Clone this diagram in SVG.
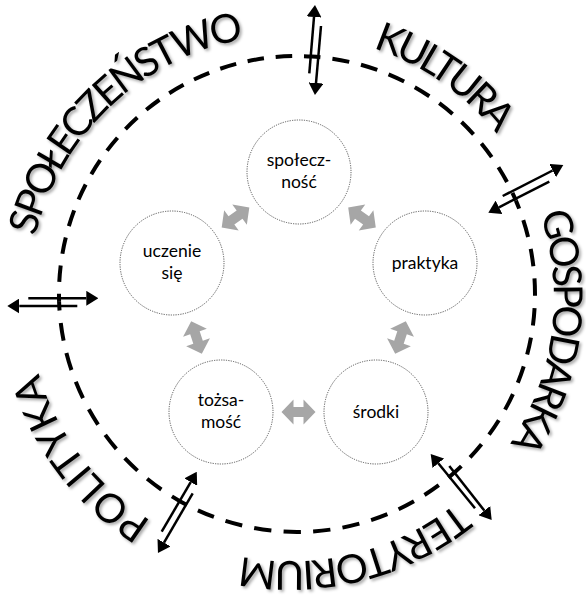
<svg xmlns="http://www.w3.org/2000/svg" width="586" height="600" viewBox="0 0 586 600">
<style>
.ring{fill:none;stroke:#000;stroke-width:4}
.word{font-family:Lato,"Liberation Sans",sans-serif;font-size:40px;fill:#000}
.node circle{fill:#fff;stroke:#555;stroke-width:1;stroke-dasharray:1.2 1.2}
.node text{font-family:Lato,"Liberation Sans",sans-serif;font-size:17.5px;fill:#000;text-anchor:middle}
.garrow{fill:#a6a6a6}
.xline{stroke:#000;stroke-width:2.5;fill:none;marker-end:url(#head)}
</style>
<defs>
<marker id="head" markerUnits="userSpaceOnUse" viewBox="0 -7.5 12 15" refX="0" refY="0" markerWidth="12" markerHeight="15" orient="auto">
<path d="M0,-7.5 L12,0 L0,7.5 Z" fill="#000"/>
</marker>
<filter id="shadow" x="-10%" y="-10%" width="130%" height="130%">
<feDropShadow dx="2" dy="2" stdDeviation="1.5" flood-color="#000" flood-opacity="0.35"/>
</filter>
<path id="gArrow" d="M-17,0 L-5,-12.5 L-5,-5 L5,-5 L5,-12.5 L17,0 L5,12.5 L5,5 L-5,5 L-5,12.5 Z"/>
<path id="pSpol" d="M71.2,442.4 A263,263 0 0 1 448.2,87.1"/>
<path id="pKult" d="M104.4,112.7 A263,263 0 0 1 529.8,408.3"/>
<path id="pGosp" d="M370.1,47.2 A263,263 0 0 1 302.5,560.7"/>
<path id="pTery" d="M553.4,279.7 A263,263 0 0 1 50.7,405.0"/>
<path id="pPoli" d="M411.6,531.7 A263,263 0 0 1 97.7,119.6"/>
</defs>
<rect width="586" height="600" fill="#fff"/>

<g id="ring">
<path class="ring" d="M311.9,56.5 A238,238 0 0 1 515.9,200.6" stroke-dasharray="17.12 12.09" stroke-dashoffset="8.56"/>
<path class="ring" d="M515.9,200.6 A238,238 0 0 1 455.0,472.0" stroke-dasharray="17.41 12.29" stroke-dashoffset="8.7"/>
<path class="ring" d="M455.0,472.0 A238,238 0 0 1 179.5,500.9" stroke-dasharray="17.34 12.24" stroke-dashoffset="8.67"/>
<path class="ring" d="M179.5,500.9 A238,238 0 0 1 59.1,301.9" stroke-dasharray="17.8 12.58" stroke-dashoffset="8.9"/>
<path class="ring" d="M59.1,301.9 A238,238 0 0 1 311.9,56.5" stroke-dasharray="16.6 11.74" stroke-dashoffset="8.3"/>
</g>

<g id="ring-labels" filter="url(#shadow)">
<text class="word"><textPath href="#pSpol" startOffset="50%" text-anchor="middle" textLength="304" lengthAdjust="spacing">SPOŁECZEŃSTWO</textPath></text>
<text class="word"><textPath href="#pKult" startOffset="50%" text-anchor="middle" textLength="153" lengthAdjust="spacing">KULTURA</textPath></text>
<text class="word"><textPath href="#pGosp" startOffset="50%" text-anchor="middle" textLength="240" lengthAdjust="spacing">GOSPODARKA</textPath></text>
<text class="word"><textPath href="#pTery" startOffset="50%" text-anchor="middle" textLength="230" lengthAdjust="spacing">TERYTORIUM</textPath></text>
<text class="word"><textPath href="#pPoli" startOffset="50%" text-anchor="middle" textLength="190" lengthAdjust="spacing">POLITYKA</textPath></text>
</g>

<g id="node-spolecznosc" class="node">
<circle cx="299" cy="172" r="52"/>
<text x="299" y="165.5">społecz-</text>
<text x="299" y="187.5">ność</text>
</g>
<g id="node-praktyka" class="node">
<circle cx="425" cy="263" r="52"/>
<text x="425" y="269">praktyka</text>
</g>
<g id="node-srodki" class="node">
<circle cx="376" cy="412" r="52"/>
<text x="376" y="418">środki</text>
</g>
<g id="node-tozsamosc" class="node">
<circle cx="221" cy="412" r="52"/>
<text x="221" y="405.5">tożsa-</text>
<text x="221" y="427.5">mość</text>
</g>
<g id="node-uczenie" class="node">
<circle cx="172" cy="263" r="52"/>
<text x="172" y="256.5">uczenie</text>
<text x="172" y="278.5">się</text>
</g>

<g id="connectors">
<use href="#gArrow" class="garrow" transform="translate(362,217.5) rotate(35.8)"/>
<use href="#gArrow" class="garrow" transform="translate(235.5,217.5) rotate(144.4)"/>
<use href="#gArrow" class="garrow" transform="translate(196.5,337.5) rotate(71.8)"/>
<use href="#gArrow" class="garrow" transform="translate(400.5,337.5) rotate(108.2)"/>
<use href="#gArrow" class="garrow" transform="translate(298.5,412)"/>

<line class="xline" x1="309.3" y1="73.3" x2="314.0" y2="17.0"/>
<line class="xline" x1="321" y1="26" x2="316.0" y2="83.0"/>

<line class="xline" x1="502.7" y1="196" x2="552.6" y2="170.5"/>
<line class="xline" x1="549.3" y1="181.7" x2="499.0" y2="207.3"/>

<line class="xline" x1="28.3" y1="298.3" x2="86.3" y2="298.3"/>
<line class="xline" x1="77.3" y1="306" x2="19.3" y2="306"/>

<line class="xline" x1="161.7" y1="531.7" x2="190.7" y2="482.1"/>
<line class="xline" x1="192.7" y1="493.3" x2="164.0" y2="542.6"/>

<line class="xline" x1="475" y1="508.3" x2="438.3" y2="463.3"/>
<line class="xline" x1="449.3" y1="466" x2="484.3" y2="510.6"/>
</g>
</svg>
